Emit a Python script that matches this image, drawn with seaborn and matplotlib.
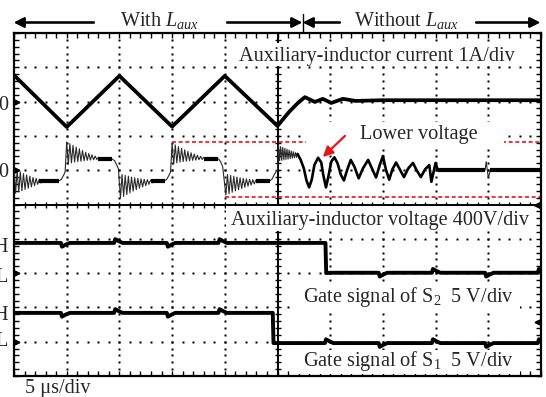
import numpy as np
import pandas as pd
import seaborn as sns
import matplotlib.pyplot as plt
from matplotlib.patches import Rectangle
from matplotlib.lines import Line2D

# ---- scope settings --------------------------------------------------------
T_PER_DIV = 5.0        # us/div
I_PER_DIV = 1.0        # A/div
VL_PER_DIV = 400.0     # V/div
VG_PER_DIV = 5.0       # V/div
# channel ground positions, in divisions from the screen centre
I_GND, VL_GND, S2_GND, S1_GND = 3.0, 1.0, -2.0, -4.0

# ---- auxiliary-inductor current (A) ---------------------------------------
current_t = [0.0, 5.0, 10.0, 15.0, 20.0, 25.0, 26.1, 27.0, 27.6, 28.55,
             29.3, 30.1, 31.2, 32.4, 35.0, 50.0]
current_a = [0.77, -0.74, 0.75, -0.73, 0.75, -0.71, -0.30, -0.02, 0.13, -0.01,
             0.08, -0.04, 0.08, 0.02, 0.04, 0.04]

# ---- auxiliary-inductor voltage (V) ---------------------------------------
voltage_t = [
    # with L_aux: ringing after each switching edge
    0.0, 0.15, 0.3, 0.45, 0.6, 0.75, 0.9, 1.05, 1.2, 1.35, 1.5, 1.65, 1.8,
    1.95, 2.1, 2.25, 2.4, 2.55, 2.7, 2.85, 3.0, 3.15, 3.3, 4.3, 4.5, 4.7, 4.85,
    5.0, 5.15, 5.3, 5.45, 5.6, 5.75, 5.9, 6.05, 6.2, 6.35, 6.5, 6.65, 6.8,
    6.95, 7.1, 7.25, 7.4, 7.55, 7.7, 7.85, 8.0, 8.15, 8.3, 8.45, 8.6,
    9.3, 9.55, 9.75, 9.9,
    10.1, 10.25, 10.4, 10.55, 10.7, 10.85, 11.0, 11.15, 11.3, 11.45, 11.6,
    11.75, 11.9, 12.05, 12.2, 12.35, 12.5, 12.65, 12.8, 12.95, 13.1, 13.25,
    13.4, 13.55, 13.7, 14.3, 14.5, 14.7, 14.85,
    15.0, 15.15, 15.3, 15.45, 15.6, 15.75, 15.9, 16.05, 16.2, 16.35, 16.5,
    16.65, 16.8, 16.95, 17.1, 17.25, 17.4, 17.55, 17.7, 17.85, 18.0, 18.15,
    18.3, 18.45, 18.6, 19.4, 19.6, 19.8,
    20.1, 20.25, 20.4, 20.55, 20.7, 20.85, 21.0, 21.15, 21.3, 21.45, 21.6,
    21.75, 21.9, 22.05, 22.2, 22.35, 22.5, 22.65, 22.8, 22.95, 23.1, 23.25,
    23.4, 23.55, 23.7, 24.3, 24.5, 24.7, 24.9,
    # without L_aux: fast ringing, then slow oscillation
    25.0, 25.1, 25.2, 25.3, 25.4, 25.5, 25.6, 25.7, 25.8, 25.9, 26.0, 26.1,
    26.2, 26.3, 26.4, 26.5, 26.6, 26.7, 26.8, 26.9,
    27.2, 27.5, 27.75, 28.0, 28.25, 28.5, 28.85, 29.15, 29.35, 29.6, 29.85,
    30.1, 30.4, 30.7, 31.0, 31.3, 31.6, 31.95, 32.3, 32.7, 33.1, 33.6, 34.0,
    34.35, 34.7, 35.0, 35.3, 35.6, 35.9, 36.25, 36.6, 37.0, 37.4, 37.85,
    38.2, 38.6, 39.0, 39.4, 39.6, 40.0, 40.2,
    44.7, 44.8, 45.0, 45.2, 49.8, 50.0]
voltage_v = [
    60, -270, 0, -255, -20, -240, -40, -225, -55, -210, -70, -195, -85,
    -180, -95, -165, -105, -150, -112, -138, -118, -128, -122, -122, -105, -60, -20,
    330, 70, 310, 85, 290, 95, 270, 100, 250, 105, 230, 110, 210,
    115, 195, 118, 180, 122, 165, 125, 150, 128, 140, 130, 132,
    132, 110, 60, 20,
    -325, -50, -305, -60, -285, -70, -265, -80, -245, -88, -228,
    -95, -210, -100, -195, -105, -180, -110, -165, -114, -150, -117,
    -138, -120, -122, -122, -105, -60, -20,
    315, 70, 295, 85, 275, 95, 255, 100, 238, 105, 220,
    110, 203, 115, 188, 118, 175, 122, 162, 125, 150, 128,
    140, 130, 132, 132, 100, 40,
    -290, -50, -275, -60, -258, -70, -242, -80, -228, -88, -214,
    -95, -200, -100, -186, -105, -173, -110, -160, -114, -148, -117,
    -136, -120, -122, -122, -100, -50, -10,
    0, 290, 110, 275, 115, 265, 120, 255, 125, 245, 130, 235,
    135, 225, 140, 215, 145, 205, 150, 190,
    120, 20, -120, -200, -110, 60, 145, 90, -60, -200, -60,
    100, 150, 80, -50, -120, 0, 120, 40, -95, 20, 120, 10,
    -85, 60, 165, 0, -110, 10, 90, 10, -80, 20, 85,
    0, -80, 10, 60, -135, 85, 0,
    0, 100, -90, 0, 0, -40]

# flat (noisy, thick) stretches of the voltage trace
plateau_t0 = [2.4, 8.0, 13.0, 18.0, 23.0, 40.2, 45.2]
plateau_t1 = [4.3, 9.3, 14.3, 19.4, 24.3, 44.7, 50.0]
plateau_v = [-122, 132, -122, 132, -122, 0, 0]

# level lines marking the overshoot peaks (V) and their time spans (us)
mark_v = [328, 328, -318]
mark_t0 = [15.0, 46.3, 20.0]
mark_t1 = [27.7, 50.0, 50.0]

# ---- gate signals (V) -----------------------------------------------------
s2_t = [0.0, 4.45, 4.55, 4.9, 5.3, 9.5, 9.6, 9.95, 10.3, 14.5, 14.6, 14.95,
        15.3, 19.4, 19.5, 19.85, 20.2, 29.55, 29.62, 30.0, 34.6, 34.7, 35.05,
        35.4, 39.65, 39.75, 40.1, 40.45, 44.7, 44.8, 45.15, 45.5, 49.7, 49.8,
        50.0]
s2_v = [4.4, 4.4, 3.85, 4.15, 4.4, 4.4, 4.95, 4.65, 4.4, 4.4, 3.85, 4.15,
        4.4, 4.4, 4.95, 4.65, 4.4, 4.4, 0.0, 0.05, 0.05, -0.5, -0.2,
        0.05, 0.05, 0.6, 0.3, 0.05, 0.05, -0.5, -0.2, 0.05, 0.05, 0.6,
        0.5]
s1_t = [0.0, 4.45, 4.55, 4.9, 5.3, 9.5, 9.6, 9.95, 10.3, 14.5, 14.6, 14.95,
        15.3, 19.4, 19.5, 19.85, 20.2, 24.55, 24.62, 29.5, 29.6, 29.95, 30.3,
        34.6, 34.7, 35.05, 35.4, 39.65, 39.75, 40.1, 40.45, 44.7, 44.8, 45.15,
        45.5, 49.7, 49.8, 50.0]
s1_v = [4.2, 4.2, 3.65, 3.95, 4.2, 4.2, 4.75, 4.45, 4.2, 4.2, 3.65, 3.95,
        4.2, 4.2, 4.75, 4.45, 4.2, 4.2, -0.2, -0.2, 0.35, 0.05, -0.2,
        -0.2, -0.75, -0.45, -0.2, -0.2, 0.35, 0.05, -0.2, -0.2, -0.75, -0.45,
        -0.2, -0.2, 0.35, 0.3]

# ---- text -----------------------------------------------------------------
header_left = r'With $L_{aux}$'
header_right = r'Without $L_{aux}$'
label_current = 'Auxiliary-inductor current 1A/div'
label_voltage = 'Auxiliary-inductor voltage 400V/div'
label_s2 = r'Gate signal of S$_{\mathrm{2}}$  5 V/div'
label_s1 = r'Gate signal of S$_{\mathrm{1}}$  5 V/div'
label_lower = 'Lower voltage'
label_time = '5 \u03bcs/div'

# ---- style ----------------------------------------------------------------
sns.set_style('white')
plt.rcParams['font.family'] = ['Liberation Serif', 'DejaVu Serif']
plt.rcParams['mathtext.fontset'] = 'custom'
plt.rcParams['mathtext.rm'] = 'Liberation Serif'
plt.rcParams['mathtext.it'] = 'Liberation Serif:italic'
plt.rcParams['font.size'] = 14.6
RED = '#e8141c'

W, H = 546, 397
fig = plt.figure(figsize=(W / 100, H / 100), dpi=100)
ax = fig.add_axes([14 / W, 1 - 376 / H, 527 / W, 343 / H])
ax.set_xlim(0, 10)
ax.set_ylim(-5, 5)


def to_div(t, v, scale, gnd):
    return np.asarray(t) / T_PER_DIV, gnd + np.asarray(v) / scale


# graticule: dotted division lines
steps = np.round(np.arange(0.2, 10.0, 0.2), 6)
for k in range(1, 10):
    if k == 5:
        continue
    ax.plot(np.full_like(steps, k), steps - 5, 's', color='black', ms=1.5,
            mec='none', zorder=1)
for k in range(-4, 5):
    if k == 0:
        continue
    ax.plot(steps, np.full_like(steps, k), 's', color='black', ms=1.5,
            mec='none', zorder=1)
# centre cross with sub-division ticks
ax.axhline(0, color='black', lw=1.4, zorder=1.5)
ax.axvline(5, color='black', lw=1.4, zorder=1.5)
ax.plot(steps, np.zeros_like(steps), '|', color='black', ms=4.5, mew=1.0,
        zorder=1.5)
ax.plot(np.full_like(steps, 5), steps - 5, '_', color='black', ms=4.5,
        mew=1.0, zorder=1.5)

# frame ticks
ax.set_xticks(np.arange(0, 11, 1))
ax.set_xticks(np.arange(0, 10.01, 0.2), minor=True)
ax.set_yticks(np.arange(-5, 6, 1))
ax.set_yticks(np.arange(-5, 5.01, 0.2), minor=True)
ax.tick_params(which='both', direction='in', top=True, right=True,
               bottom=True, left=True, labelbottom=False, labelleft=False,
               length=3.5, width=1.0, color='black')
for sp in ax.spines.values():
    sp.set_linewidth(1.6)
    sp.set_color('black')

# overshoot reference levels
for v, t0, t1 in zip(mark_v, mark_t0, mark_t1):
    xs, ys = to_div([t0, t1], [v, v], VL_PER_DIV, VL_GND)
    ax.plot(xs, ys, color=RED, lw=1.2, ls=(0, (2.4, 1.6)), zorder=2)

# white label boxes (x0, x1, y0, y1 in divisions)
boxes = [(4.14, 9.64, 4.04, 4.71), (4.02, 9.91, -0.77, -0.04),
         (5.54, 9.30, 1.62, 2.41), (5.39, 9.60, -3.05, -2.35),
         (5.39, 9.60, -4.94, -4.24)]
for x0, x1, y0, y1 in boxes:
    ax.add_patch(Rectangle((x0, y0), x1 - x0, y1 - y0, fc='white',
                           ec='none', zorder=3))

# traces
cx, cy = to_div(current_t, current_a, I_PER_DIV, I_GND)
sns.lineplot(x=cx, y=cy, sort=False, estimator=None, color='black', lw=2.7,
             ax=ax, zorder=4)

vx, vy = to_div(voltage_t, voltage_v, VL_PER_DIV, VL_GND)
sns.lineplot(x=vx, y=vy, sort=False, estimator=None, color='#2a2a2a',
             lw=0.8, ax=ax, zorder=4)
slow = (vx >= 26.9 / T_PER_DIV) & (vx <= 40.2 / T_PER_DIV)
sns.lineplot(x=vx[slow], y=vy[slow], sort=False, estimator=None,
             color='black', lw=1.9, ax=ax, zorder=4)
for t0, t1, v in zip(plateau_t0, plateau_t1, plateau_v):
    px, py = to_div([t0, t1], [v, v], VL_PER_DIV, VL_GND)
    ax.plot(px, py, color='black', lw=3.0, solid_capstyle='butt', zorder=4)

for t, v, gnd in ((s2_t, s2_v, S2_GND), (s1_t, s1_v, S1_GND)):
    gx, gy = to_div(t, v, VG_PER_DIV, gnd)
    sns.lineplot(x=gx, y=gy, sort=False, estimator=None, color='black',
                 lw=2.8, ax=ax, zorder=4)

# channel ground markers
for g in (I_GND, VL_GND, S2_GND, S1_GND):
    ax.plot(0.05, g, '>', color='black', ms=3.5, zorder=5, clip_on=False)
ax.plot(9.93, 0.0, '<', color='black', ms=4, zorder=5)
ax.plot(9.93, -3.43, '<', color='black', ms=3.5, zorder=5)

# labels inside the screen
ax.text(6.89, 4.18, label_current, ha='center', va='baseline', zorder=5)
ax.text(6.95, -0.60, label_voltage, ha='center', va='baseline', zorder=5)
ax.text(7.69, 1.91, label_lower, ha='center', va='baseline', zorder=5)
ax.text(7.48, -2.83, label_s2, ha='center', va='baseline', zorder=5)
ax.text(7.48, -4.70, label_s1, ha='center', va='baseline', zorder=5)
ax.annotate('', xy=(5.86, 1.385), xytext=(6.28, 2.0),
            arrowprops=dict(arrowstyle='-|>', color=RED, lw=1.6,
                            mutation_scale=15, shrinkA=0, shrinkB=0),
            zorder=6)

# labels outside the screen (cut by the left edge, as on the print)
fig.text(58 / W, 1 - 393 / H, label_time, ha='center', va='baseline')
for txt, ypx in (('0', 110), ('0', 177), ('H', 252), ('L', 282),
                 ('H', 320), ('L', 346)):
    fig.text(8 / W, 1 - ypx / H, txt, ha='right', va='baseline')

fig.text(160 / W, 1 - 26 / H, header_left, ha='center', va='baseline')
fig.text(407 / W, 1 - 26 / H, header_right, ha='center', va='baseline')
arrow_kw = dict(arrowstyle='-|>', color='black', lw=1.5, mutation_scale=15,
                shrinkA=0, shrinkB=0)
ya = H - 22.5
for head, tail in ((14, 94), (302, 227), (303, 340), (540, 476)):
    fig.add_artist(plt.annotate('', xy=(head, ya), xytext=(tail, ya),
                                xycoords='figure pixels',
                                textcoords='figure pixels',
                                arrowprops=arrow_kw))
fig.add_artist(Line2D([302.5 / W, 302.5 / W], [1 - 14 / H, 1 - 32 / H],
                      color='black', lw=1.0))

fig.savefig('out.png', dpi=100)
